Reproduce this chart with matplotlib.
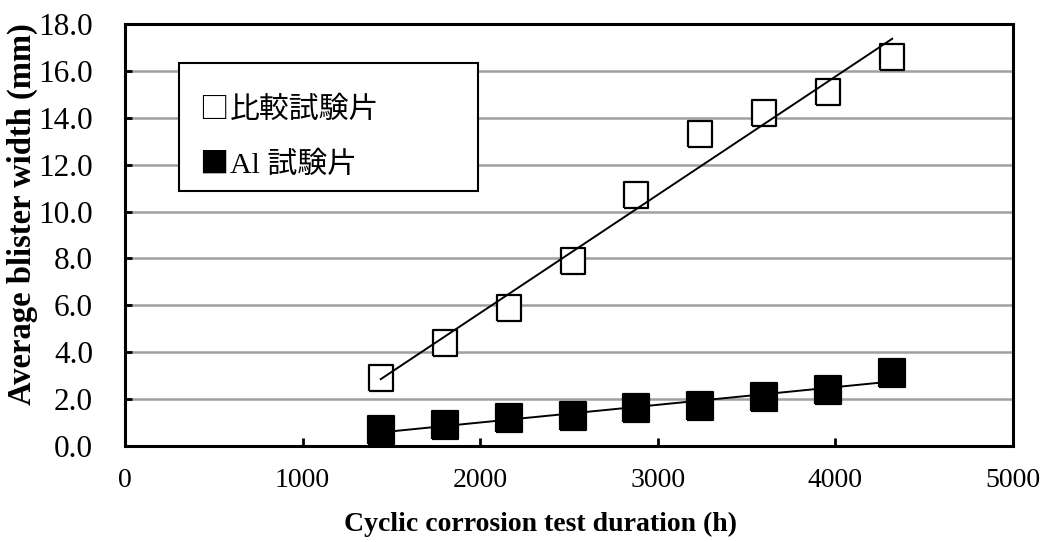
import matplotlib
matplotlib.use("Agg")
import matplotlib.pyplot as plt
import numpy as np

plt.rcParams['font.family'] = ['Liberation Serif', 'Noto Sans CJK JP', 'DejaVu Sans']

# data
hours = [1440, 1800, 2160, 2520, 2880, 3240, 3600, 3960, 4320]
blister_ref = [2.9, 4.4, 5.9, 7.9, 10.7, 13.3, 14.2, 15.1, 16.6]   # 比較試験片
blister_al = [0.7, 0.9, 1.2, 1.3, 1.6, 1.7, 2.1, 2.4, 3.1]         # Al 試験片
xticks = [0, 1000, 2000, 3000, 4000, 5000]
yticks = [0, 2, 4, 6, 8, 10, 12, 14, 16, 18]
legend_marks = ['□', '■']
legend_labels = ['比較試験片', 'Al 試験片']

fig = plt.figure(figsize=(10.43, 5.42), dpi=100)
ax = fig.add_axes([125 / 1043, 1 - 446 / 542, (1013 - 125) / 1043, (446 - 24) / 542])

# slightly taller than wide square, like the original
box = [(-0.93, -1), (0.93, -1), (0.93, 1), (-0.93, 1), (-0.93, -1)]

x = np.array(hours)
for ys, face, ms in [(blister_ref, 'white', 18.5), (blister_al, 'black', 19.5)]:
    ax.plot(hours, ys, linestyle='none', marker=box, markersize=ms,
            markerfacecolor=face, markeredgecolor='black', markeredgewidth=1.6, zorder=3)
    k, b = np.polyfit(x, ys, 1)
    ax.plot(x, k * x + b, color='black', lw=1.4, zorder=4)

ax.set_xlim(0, 5000)
ax.set_ylim(0, 18)
ax.set_xticks(xticks)
ax.set_yticks(yticks)
ax.set_yticklabels([f"{v:.1f}" for v in yticks])
ax.tick_params(axis='x', direction='in', length=6, width=2, labelsize=20, pad=16)
ax.tick_params(axis='y', direction='in', length=5, width=2, labelsize=22.5, pad=23)
ax.yaxis.grid(True, color='#a0a0a0', lw=1.8)
ax.set_axisbelow(True)
for s in ax.spines.values():
    s.set_linewidth(2.2)

fig.text(541 / 1043, 1 - 524 / 542, 'Cyclic corrosion test duration (h)',
         ha='center', va='center', fontsize=20, fontweight='bold')
fig.text(22 / 1043, 1 - 214 / 542, 'Average blister width (mm)', rotation=90,
         ha='center', va='center', fontsize=23.5, fontweight='bold')

# legend drawn as a text box
ax.add_patch(plt.Rectangle(((179 - 125) / 888, (446 - 191) / 422), 299 / 888, 128 / 422,
                           transform=ax.transAxes, facecolor='white', edgecolor='black',
                           lw=1.5, zorder=5))
for i, (mk, lab) in enumerate(zip(legend_marks, legend_labels)):
    yc = (446 - (110 + 55 * i)) / 422
    ax.text((199 - 125) / 888, yc, mk, transform=ax.transAxes, family='Noto Sans CJK JP',
            ha='left', va='center', fontsize=21, zorder=6)
    ax.text((230 - 125) / 888, yc, lab, transform=ax.transAxes,
            ha='left', va='center', fontsize=21.5, zorder=6)

fig.savefig('out.png', dpi=100)
